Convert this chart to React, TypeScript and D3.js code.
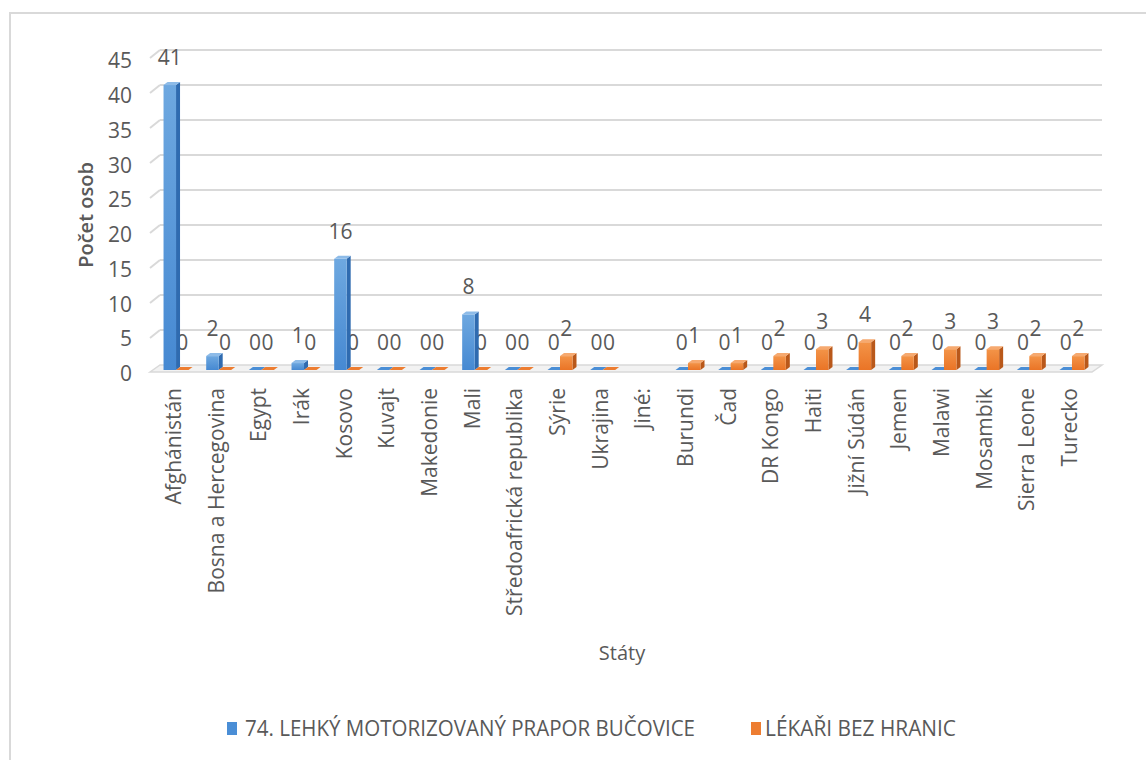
import React from "react";
import * as d3 from "d3";

// data
const categories = [
  "Afghánistán",
  "Bosna a Hercegovina",
  "Egypt",
  "Irák",
  "Kosovo",
  "Kuvajt",
  "Makedonie",
  "Mali",
  "Středoafrická republika",
  "Sýrie",
  "Ukrajina",
  "Jiné:",
  "Burundi",
  "Čad",
  "DR Kongo",
  "Haiti",
  "Jižní Súdán",
  "Jemen",
  "Malawi",
  "Mosambik",
  "Sierra Leone",
  "Turecko",
];
const seriesNames = ["74. LEHKÝ MOTORIZOVANÝ PRAPOR BUČOVICE", "LÉKAŘI BEZ HRANIC"];
const praporValues: (number | null)[] = [41, 2, 0, 1, 16, 0, 0, 8, 0, 0, 0, null, 0, 0, 0, 0, 0, 0, 0, 0, 0, 0];
const lekariValues: (number | null)[] = [0, 0, 0, 0, 0, 0, 0, 0, 0, 2, 0, null, 1, 1, 2, 3, 4, 2, 3, 3, 2, 2];
const yTicks = [0, 5, 10, 15, 20, 25, 30, 35, 40, 45];
const yTitle = "Počet osob";
const xTitle = "Státy";

const W = 1146;
const H = 760;
const FONT = "'Open Sans', 'Liberation Sans', sans-serif";
const TEXT = "#595959";
const GRID = "#d9d9d9";

const colors = [
  { top: "#8dbbe8", front1: "#6ea8e0", front2: "#4689d2", side: "#2f6bb0", key: "#4a8ed6" },
  { top: "#f6a96f", front1: "#f39448", front2: "#ea7426", side: "#b9581a", key: "#ed7d31" },
];

// 3d offsets
const WALL_DX = 10;
const WALL_DY = -8;
const BAR_DX = 4;
const BAR_DY = -3;

const App = () => {
  const x = d3.scaleBand().domain(categories).range([154.7, 1093.3]).paddingInner(0).paddingOuter(0);
  const yFront = d3.scaleLinear().domain([0, 45]).range([370, 57.25]);
  const yBack = d3.scaleLinear().domain([0, 45]).range([365, 50]);
  const bw = x.bandwidth();
  const barW = 12.5;
  const groupOff = (bw - 2 * barW) / 2;
  const floorLeft = 150;
  const floorRight = 1092;
  const series = [praporValues, lekariValues];

  const bars: React.ReactNode[] = [];
  const labels: React.ReactNode[] = [];
  categories.forEach((c, i) => {
    series.forEach((vals, s) => {
      const v = vals[i];
      if (v === null || v === undefined) return;
      const x0 = (x(c) as number) + groupOff + s * barW;
      const x1 = x0 + barW;
      const yb = yFront(0);
      const yt = yFront(v);
      const col = colors[s];
      labels.push(
        <text
          key={`l${i}-${s}`}
          x={x0 + barW / 2}
          y={yt - 20}
          textAnchor="middle"
          fontSize={21}
          fill={TEXT}
        >
          {v}
        </text>
      );
      bars.push(
        <g key={`b${i}-${s}`}>
          {v > 0 && (
            <>
              <polygon
                points={`${x1},${yt} ${x1 + BAR_DX},${yt + BAR_DY} ${x1 + BAR_DX},${yb + BAR_DY} ${x1},${yb}`}
                fill={col.side}
              />
              <rect x={x0} y={yt} width={barW} height={yb - yt} fill={`url(#grad${s})`} />
            </>
          )}
          <polygon
            points={`${x0},${yt} ${x0 + BAR_DX},${yt + BAR_DY} ${x1 + BAR_DX},${yt + BAR_DY} ${x1},${yt}`}
            fill={v > 0 ? col.top : col.key}
          />
        </g>
      );
    });
  });

  return (
    <svg
      width={W}
      height={H}
      style={{ position: "absolute", left: 0, top: 0, background: "#fff" }}
      fontFamily={FONT}
    >
      <defs>
        {colors.map((c, s) => (
          <linearGradient key={s} id={`grad${s}`} x1="0" y1="0" x2="0" y2="1">
            <stop offset="0%" stopColor={c.front1} />
            <stop offset="100%" stopColor={c.front2} />
          </linearGradient>
        ))}
      </defs>

      {/* chart area border (right and bottom fall outside the picture) */}
      <rect x={10} y={13} width={W + 20} height={H + 20} fill="#fff" stroke={GRID} strokeWidth={2} />

      {/* floor */}
      <polygon
        points={`${floorLeft},${yFront(0) + 2} ${floorLeft + WALL_DX},${yBack(0)} ${floorRight + WALL_DX},${yBack(0)} ${floorRight},${yFront(0) + 2}`}
        fill="#f2f2f2"
        stroke={GRID}
        strokeWidth={1.5}
      />

      {/* back wall gridlines */}
      {yTicks
        .filter((t) => t > 0)
        .map((t) => (
          <g key={t}>
            <line
              x1={floorLeft}
              y1={yBack(t) - WALL_DY}
              x2={floorLeft + WALL_DX}
              y2={yBack(t)}
              stroke={GRID}
              strokeWidth={2}
            />
            <line
              x1={floorLeft + WALL_DX}
              y1={yBack(t)}
              x2={floorRight + WALL_DX}
              y2={yBack(t)}
              stroke={GRID}
              strokeWidth={2}
            />
          </g>
        ))}

      {/* y tick labels */}
      {yTicks.map((t) => (
        <text
          key={`t${t}`}
          x={132}
          y={yFront(t) + 3}
          textAnchor="end"
          dominantBaseline="central"
          fontSize={21}
          fill={TEXT}
        >
          {t}
        </text>
      ))}

      {labels}
      {bars}

      {/* category labels */}
      {categories.map((c) => (
        <text
          key={`c${c}`}
          transform={`translate(${(x(c) as number) + bw / 2 - 3},388) rotate(-90)`}
          textAnchor="end"
          dominantBaseline="central"
          fontSize={21}
          fill={TEXT}
        >
          {c}
        </text>
      ))}

      {/* axis titles */}
      <text
        transform="translate(85,215) rotate(-90)"
        textAnchor="middle"
        dominantBaseline="central"
        fontSize={20}
        fontWeight={600}
        fill={TEXT}
      >
        {yTitle}
      </text>
      <text x={622} y={652} textAnchor="middle" dominantBaseline="central" fontSize={20} fill={TEXT}>
        {xTitle}
      </text>

      {/* legend */}
      <rect x={227} y={722} width={10} height={13} fill={colors[0].key} />
      <text x={245} y={736} fontSize={21} fill={TEXT} textLength={450} lengthAdjust="spacingAndGlyphs">
        {seriesNames[0]}
      </text>
      <rect x={751} y={722} width={10} height={13} fill={colors[1].key} />
      <text x={765} y={736} fontSize={21} fill={TEXT} textLength={191} lengthAdjust="spacingAndGlyphs">
        {seriesNames[1]}
      </text>
    </svg>
  );
};

export default App;
